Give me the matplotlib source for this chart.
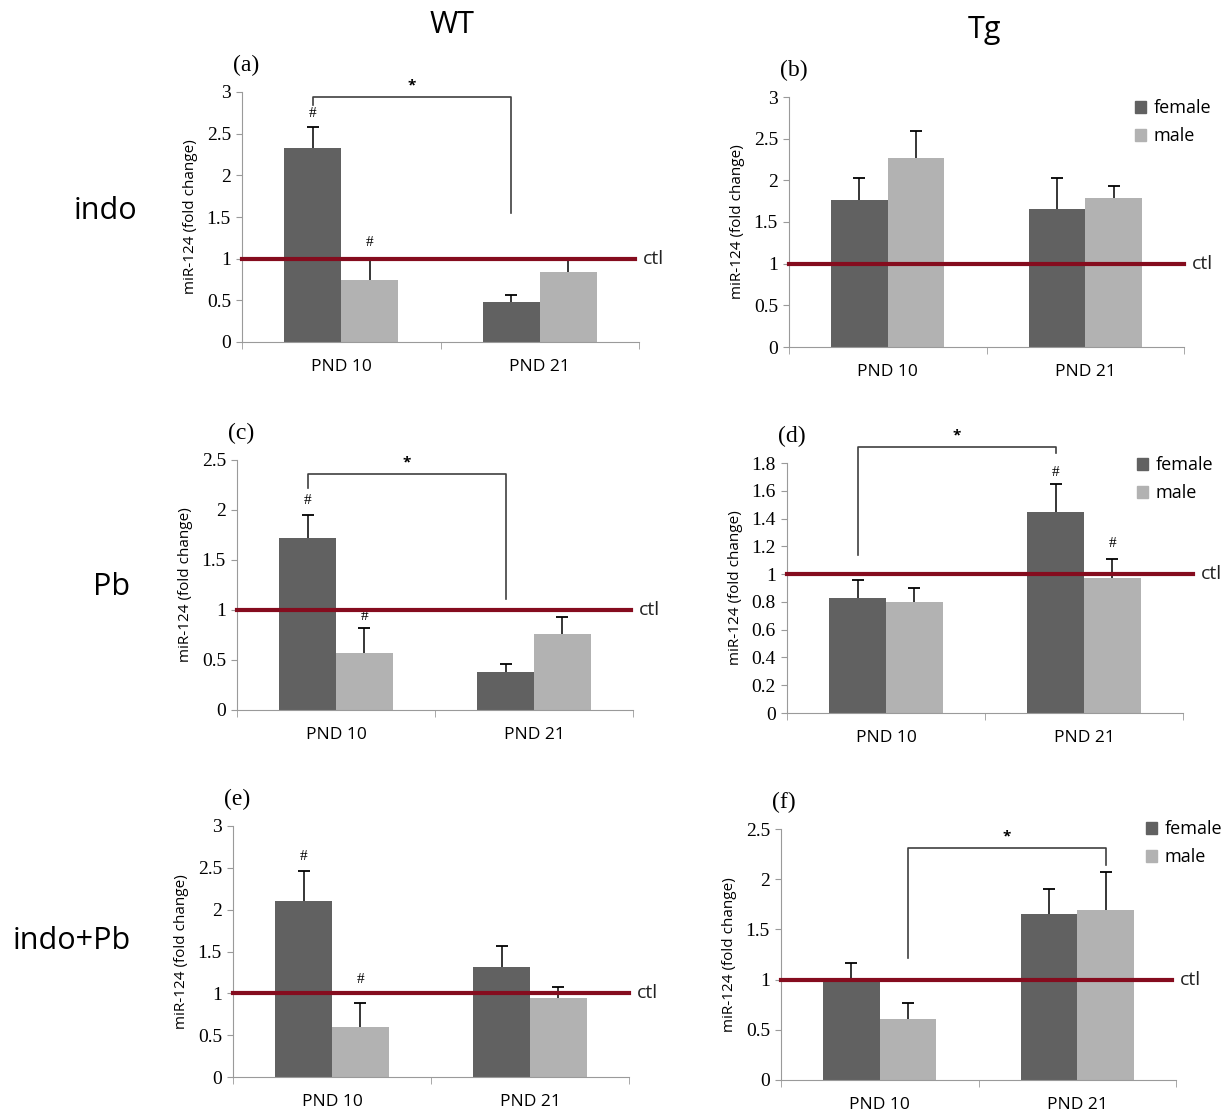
import matplotlib
matplotlib.use("Agg")
import matplotlib.pyplot as plt
from matplotlib.patches import Patch

# data: [PND 10, PND 21]
groups = ["PND 10", "PND 21"]

female_a = [2.33, 0.48]; female_a_err = [0.25, 0.08]
male_a = [0.74, 0.84]; male_a_err = [0.25, 0.15]

female_b = [1.76, 1.66]; female_b_err = [0.27, 0.37]
male_b = [2.27, 1.79]; male_b_err = [0.32, 0.14]

female_c = [1.72, 0.38]; female_c_err = [0.23, 0.08]
male_c = [0.57, 0.76]; male_c_err = [0.25, 0.17]

female_d = [0.83, 1.45]; female_d_err = [0.13, 0.20]
male_d = [0.80, 0.97]; male_d_err = [0.10, 0.14]

female_e = [2.10, 1.31]; female_e_err = [0.36, 0.25]
male_e = [0.60, 0.94]; male_e_err = [0.29, 0.13]

female_f = [1.00, 1.65]; female_f_err = [0.17, 0.25]
male_f = [0.61, 1.69]; male_f_err = [0.16, 0.38]

W, H = 1225, 1114
DARK = "#616161"
LIGHT = "#b2b2b2"
RED = "#850c1e"
SPINE = "#9a9a9a"
SERIF = "Liberation Serif"
SANS = "Open Sans"

fig = plt.figure(figsize=(W / 100, H / 100), dpi=100)

# label, female, ferr, male, merr, ymax, ystep, box px (x0, x1, y0, ytop), ctl end, legend px, hashes, bracket
panels = [
    ("(a)", female_a, female_a_err, male_a, male_a_err, 3, 0.5, (242, 639, 342, 92), 1.98, None,
     [(0, "f", 2.74), (0, "m", 1.19)], (0, "f", 2.84, 1, "f", 1.55, 2.94)),
    ("(b)", female_b, female_b_err, male_b, male_b_err, 3, 0.5, (789, 1184, 347, 97), 2.0, (1135, 103),
     [], None),
    ("(c)", female_c, female_c_err, male_c, male_c_err, 2.5, 0.5, (237, 633, 710, 460), 1.99, None,
     [(0, "f", 2.09), (0, "m", 0.93)], (0, "f", 2.22, 1, "f", 1.11, 2.36)),
    ("(d)", female_d, female_d_err, male_d, male_d_err, 1.8, 0.2, (787, 1183, 713, 463), 2.05, (1137, 460),
     [(1, "f", 1.73), (1, "m", 1.22)], (0, "f", 1.14, 1, "f", 1.87, 1.915)),
    ("(e)", female_e, female_e_err, male_e, male_e_err, 3, 0.5, (233, 629, 1077, 826), 2.0, None,
     [(0, "f", 2.63), (0, "m", 1.17)], None),
    ("(f)", female_f, female_f_err, male_f, male_f_err, 2.5, 0.5, (781, 1176, 1080, 829), 1.98, (1146, 824),
     [], (0, "m", 1.22, 1, "m", 2.14, 2.31)),
]

bw = 0.287
centers = [0.5, 1.5]


def xpos(g, s):
    return centers[g] - bw / 2 if s == "f" else centers[g] + bw / 2


for lab, fv, fe, mv, me, ymax, ystep, box, ctl_end, leg, hashes, bracket in panels:
    x0, x1, y0, yt = box
    ax = fig.add_axes([x0 / W, 1 - y0 / H, (x1 - x0) / W, (y0 - yt) / H])
    xf = [xpos(g, "f") for g in range(2)]
    xm = [xpos(g, "m") for g in range(2)]
    ax.bar(xf, fv, width=bw, color=DARK, zorder=2)
    ax.bar(xm, mv, width=bw, color=LIGHT, zorder=2)
    # upper error bars only
    for xs, vs, es in [(xf, fv, fe), (xm, mv, me)]:
        tops = [v + e for v, e in zip(vs, es)]
        ax.vlines(xs, vs, tops, color="black", lw=1.1, zorder=3)
        ax.plot(xs, tops, ls="none", marker="_", ms=9, mew=1.3, color="black", zorder=3)
    ax.plot([0, ctl_end], [1, 1], color=RED, lw=3, clip_on=False, zorder=4)
    ax.text(ctl_end + 0.04, 1, "ctl", fontsize=14, family=SANS, va="center", ha="left", color="#222222")

    ax.set_xlim(0, 2)
    ax.set_ylim(0, ymax)
    n = int(round(ymax / ystep))
    ticks = [round(i * ystep, 2) for i in range(n + 1)]
    ax.set_yticks(ticks)
    ax.set_yticklabels(["%g" % t for t in ticks], family=SERIF, fontsize=14)
    ax.set_xticks(centers)
    ax.set_xticklabels(groups, family=SANS, fontsize=12.5)
    ax.set_xticks([0, 1, 2], minor=True)
    ax.tick_params(axis="x", which="major", length=0, pad=12)
    ax.tick_params(axis="x", which="minor", length=5, direction="out", color=SPINE)
    ax.tick_params(axis="y", length=4, direction="out", color=SPINE, pad=4)
    for s in ["top", "right"]:
        ax.spines[s].set_visible(False)
    for s in ["left", "bottom"]:
        ax.spines[s].set_color(SPINE)
    ax.set_ylabel("miR-124 (fold change)", family=SANS, fontsize=11, labelpad=6)
    ax.annotate(lab, xy=(0, 1), xycoords="axes fraction", xytext=(-9, 27), textcoords="offset pixels",
                family=SERIF, fontsize=17, ha="left", va="center")

    for g, s, y in hashes:
        ax.text(xpos(g, s), y, "#", family=SERIF, fontsize=11, ha="center", va="center")

    if bracket is not None:
        g1, s1, ya, g2, s2, yb, ytop = bracket
        xa, xb = xpos(g1, s1), xpos(g2, s2)
        ax.plot([xa, xa, xb, xb], [ya, ytop, ytop, yb], color="#404040", lw=1.2, clip_on=False, zorder=5)
        ax.text((xa + xb) / 2, ytop + ymax * 0.045, "*", fontsize=11, ha="center", va="center",
                family=SANS, weight="bold")

    if leg is not None:
        lx, ly = leg
        handles = [Patch(color=DARK), Patch(color=LIGHT)]
        ax.legend(handles, ["female", "male"], loc="upper left",
                  bbox_to_anchor=((lx - 7) / W, 1 - (ly - 11) / H),
                  bbox_transform=fig.transFigure, frameon=False, prop={"family": SANS, "size": 13},
                  handlelength=0.6, handleheight=0.6, handletextpad=0.4, labelspacing=0.55, borderaxespad=0)

fig.text(452 / W, 1 - 25 / H, "WT", family=SANS, fontsize=22, ha="center", va="center")
fig.text(985 / W, 1 - 30 / H, "Tg", family=SANS, fontsize=22, ha="center", va="center")
fig.text(105 / W, 1 - 211 / H, "indo", family=SANS, fontsize=22, ha="center", va="center")
fig.text(112 / W, 1 - 587 / H, "Pb", family=SANS, fontsize=22, ha="center", va="center")
fig.text(72 / W, 1 - 941 / H, "indo+Pb", family=SANS, fontsize=22, ha="center", va="center")

fig.savefig("out.png", dpi=100)
